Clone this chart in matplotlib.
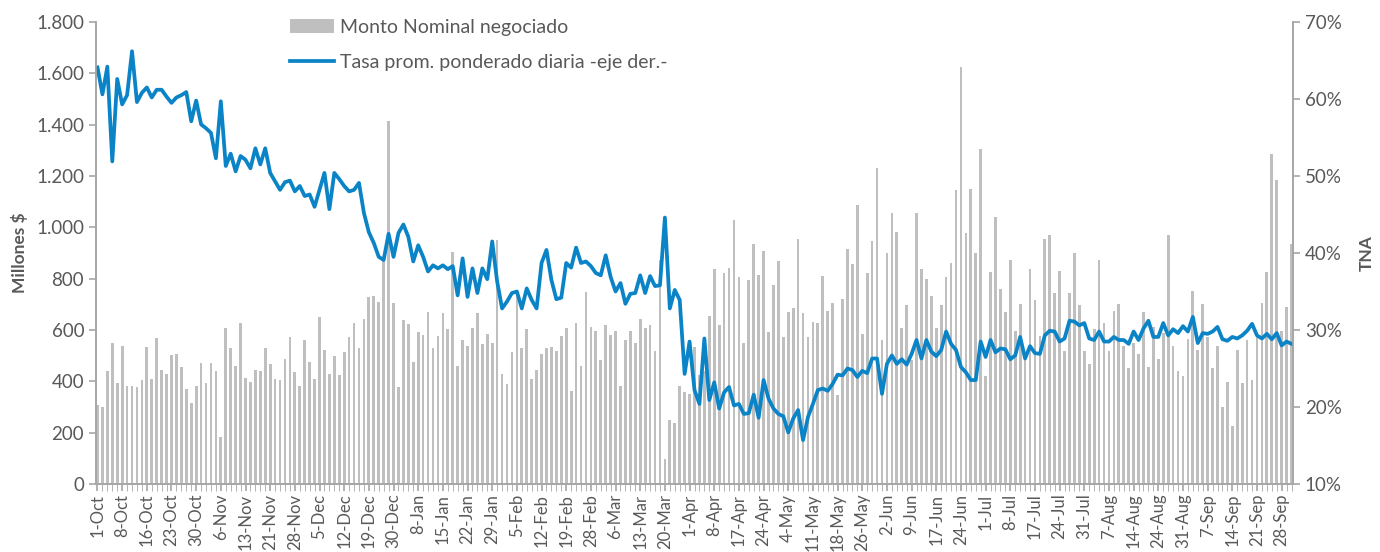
import numpy as np
import matplotlib.pyplot as plt
from matplotlib.ticker import FuncFormatter

plt.rcParams['font.family'] = ['Lato', 'DejaVu Sans']

# Monto nominal negociado (millones $), una barra por día hábil
monto = [
    309, 300, 440, 550, 393, 538, 382, 382, 377, 404,
    533, 409, 569, 446, 430, 503, 507, 456, 371, 315,
    382, 472, 393, 472, 440, 185, 606, 529, 461, 627,
    414, 399, 446, 440, 529, 466, 409, 404, 487, 571,
    435, 383, 560, 477, 409, 649, 524, 430, 498, 425,
    513, 571, 628, 529, 644, 727, 732, 711, 873, 1415,
    706, 378, 638, 623, 477, 592, 581, 670, 529, 576,
    665, 602, 904, 461, 560, 539, 607, 665, 545, 586,
    550, 951, 430, 388, 513, 743, 529, 602, 409, 446,
    508, 529, 534, 519, 576, 607, 362, 628, 461, 748,
    612, 597, 482, 618, 581, 597, 383, 560, 597, 550,
    644, 607, 618, 519, 873, 96, 248, 237, 383, 357,
    352, 534, 425, 440, 654, 836, 618, 821, 842, 1029,
    805, 550, 795, 936, 816, 909, 592, 774, 868, 571,
    670, 685, 956, 665, 571, 633, 628, 810, 675, 706,
    347, 722, 915, 857, 1087, 586, 821, 946, 1230, 560,
    899, 1055, 982, 607, 696, 482, 1055, 836, 800, 732,
    607, 696, 805, 862, 1144, 1626, 977, 1149, 899, 1306,
    420, 826, 1040, 758, 670, 873, 597, 701, 495, 836,
    717, 576, 956, 972, 743, 831, 519, 743, 899, 696,
    519, 466, 602, 873, 628, 519, 675, 701, 539, 451,
    550, 508, 670, 456, 612, 487, 590, 972, 539, 440,
    420, 566, 753, 524, 701, 571, 451, 539, 300, 399,
    227, 524, 393, 560, 404, 571, 706, 826, 1285, 1186,
    597, 691, 936,
]

# Tasa promedio ponderada diaria (% TNA, eje derecho)
tasa = [
    64.1, 60.6, 64.2, 51.9, 62.6, 59.3, 60.5, 66.2, 59.6, 60.8,
    61.5, 60.2, 61.2, 61.2, 60.3, 59.5, 60.2, 60.5, 60.9, 57.1,
    59.8, 56.7, 56.2, 55.6, 52.3, 59.7, 51.3, 52.9, 50.6, 52.6,
    52.1, 51.0, 53.6, 51.5, 53.6, 50.4, 49.3, 48.2, 49.2, 49.4,
    48.0, 48.7, 47.4, 47.6, 46.0, 48.2, 50.4, 45.7, 50.4, 49.6,
    48.7, 48.0, 48.2, 49.1, 45.2, 42.7, 41.3, 39.5, 39.1, 42.5,
    39.5, 42.6, 43.7, 42.1, 38.9, 41.0, 39.5, 37.6, 38.4, 38.0,
    38.4, 37.9, 38.3, 34.5, 39.3, 34.3, 38.0, 34.8, 38.0, 36.6,
    41.5, 36.3, 32.8, 33.7, 34.8, 35.0, 32.8, 35.4, 33.9, 32.8,
    38.7, 40.4, 36.5, 34.0, 34.2, 38.7, 38.1, 40.7, 38.7, 38.9,
    38.3, 37.4, 37.1, 39.7, 36.9, 35.0, 36.1, 33.4, 34.7, 34.8,
    37.1, 34.8, 37.0, 35.7, 35.8, 44.6, 32.8, 35.2, 33.9, 24.3,
    28.5, 22.2, 20.4, 28.9, 20.9, 23.2, 19.8, 21.9, 22.6, 20.2,
    20.4, 19.1, 19.2, 21.6, 18.6, 23.5, 21.1, 19.8, 19.1, 18.8,
    16.7, 18.5, 19.6, 15.7, 18.7, 20.4, 22.2, 22.4, 22.1, 23.0,
    24.2, 24.1, 25.0, 24.8, 23.9, 24.7, 24.4, 26.3, 26.3, 21.7,
    25.6, 26.7, 25.6, 26.2, 25.5, 26.9, 28.7, 26.3, 28.7, 27.2,
    26.6, 27.4, 29.8, 28.2, 27.4, 25.2, 24.5, 23.5, 23.5, 28.5,
    26.5, 28.7, 27.1, 27.6, 27.5, 26.2, 26.7, 29.1, 26.3, 27.9,
    27.0, 26.9, 29.3, 29.9, 29.8, 28.5, 28.9, 31.2, 31.1, 30.6,
    30.9, 28.9, 28.7, 29.8, 28.5, 28.5, 29.1, 28.7, 28.7, 28.2,
    29.8, 28.7, 30.2, 31.2, 29.1, 29.1, 30.9, 29.3, 30.1, 29.6,
    30.5, 29.8, 31.7, 28.3, 29.6, 29.5, 29.8, 30.4, 28.8, 28.6,
    29.1, 28.9, 29.3, 29.9, 30.8, 29.3, 28.9, 29.5, 28.8, 29.6,
    28.0, 28.5, 28.2,
]

# Etiquetas del eje x (una cada 5 días hábiles)
fechas = ['1-Oct', '8-Oct', '16-Oct', '23-Oct', '30-Oct', '6-Nov', '13-Nov',
          '21-Nov', '28-Nov', '5-Dec', '12-Dec', '19-Dec', '30-Dec', '8-Jan',
          '15-Jan', '22-Jan', '29-Jan', '5-Feb', '12-Feb', '19-Feb', '28-Feb',
          '6-Mar', '13-Mar', '20-Mar', '1-Apr', '8-Apr', '17-Apr', '24-Apr',
          '4-May', '11-May', '18-May', '26-May', '2-Jun', '9-Jun', '17-Jun',
          '24-Jun', '1-Jul', '8-Jul', '17-Jul', '24-Jul', '31-Jul', '7-Aug',
          '14-Aug', '24-Aug', '31-Aug', '7-Sep', '14-Sep', '21-Sep', '28-Sep']

gris = '#595959'
eje = '#A6A6A6'
x = np.arange(len(monto))

fig = plt.figure(figsize=(13.8, 5.52), dpi=100)
ax = fig.add_axes([96 / 1380, 1 - 484 / 552, 1197 / 1380, 462 / 552])
ax2 = ax.twinx()

bars = ax.bar(x, monto, width=0.55, color='#BFBFBF', label='Monto Nominal negociado')
line, = ax2.plot(x, tasa, color='#0A84C6', lw=2.7, solid_joinstyle='round',
                 label='Tasa prom. ponderado diaria -eje der.-')

ax.set_xlim(-0.3, len(monto) - 0.7)
ax.set_ylim(0, 1800)
ax.set_yticks(np.arange(0, 1801, 200))
ax.yaxis.set_major_formatter(FuncFormatter(lambda v, p: f'{int(v):,}'.replace(',', '.')))
ax2.set_ylim(10, 70)
ax2.set_yticks(np.arange(10, 71, 10))
ax2.yaxis.set_major_formatter(FuncFormatter(lambda v, p: f'{int(v)}%'))

ax.set_xticks(x, minor=True)
ax.set_xticks(x[::5])
ax.set_xticklabels(fechas, rotation=90)

for a in (ax, ax2):
    a.spines['top'].set_visible(False)
    for s in ('left', 'right', 'bottom'):
        a.spines[s].set_color(eje)
        a.spines[s].set_linewidth(1.2)
    a.tick_params(colors=gris, labelsize=13.5, width=1.2, length=5)
    a.tick_params(axis='x', which='both', color=eje, length=5)
    a.tick_params(axis='y', color=eje)
ax.tick_params(axis='x', labelsize=12, pad=2)

ax.set_ylabel('Millones $', fontsize=12.5, fontweight='bold', color=gris, labelpad=6)
ax2.set_ylabel('TNA', fontsize=12.5, fontweight='bold', color=gris, labelpad=12)

fig.legend(handles=[bars, line], loc='upper left', bbox_to_anchor=(272 / 1380, 1 - 1 / 552),
           frameon=False, fontsize=14, labelspacing=0.95, handlelength=2.3,
           handletextpad=0.3, labelcolor=gris)

fig.savefig('out.png', dpi=100)
